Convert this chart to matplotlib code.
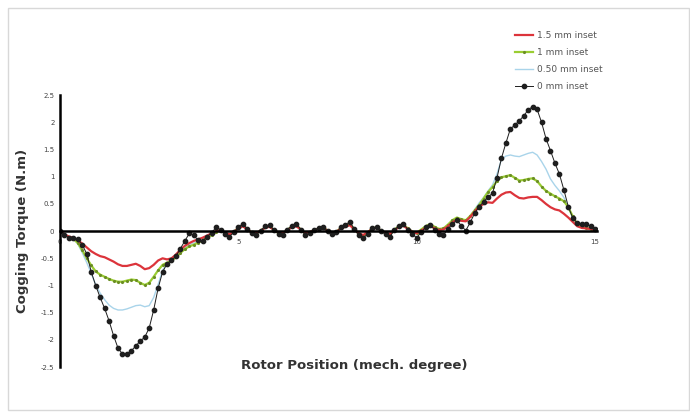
import numpy as np
import matplotlib
matplotlib.use("Agg")
import matplotlib.pyplot as plt
from matplotlib.patches import Rectangle

# rotor position, sampled every 0.125 mech. degree (0..15)
pos = np.linspace(0, 15, 121)

t_0mm = [0.00, -0.08, -0.12, -0.13, -0.15, -0.25, -0.42, -0.75, -1.00, -1.22,
         -1.42, -1.65, -1.92, -2.15, -2.26, -2.26, -2.20, -2.11, -2.02, -1.95,
         -1.78, -1.45, -1.05, -0.75, -0.60, -0.54, -0.46, -0.32, -0.18, -0.04,
         -0.08, -0.17, -0.18, -0.10, -0.03, 0.07, 0.03, -0.06, -0.10, -0.02,
         0.07, 0.14, 0.04, -0.04, -0.07, 0.01, 0.09, 0.11, 0.02, -0.05,
         -0.07, 0.03, 0.10, 0.14, 0.03, -0.07, -0.04, 0.02, 0.06, 0.08,
         0.00, -0.06, -0.02, 0.07, 0.12, 0.17, 0.04, -0.08, -0.13, -0.05,
         0.05, 0.08, 0.00, -0.06, -0.10, 0.02, 0.10, 0.14, 0.03, -0.06,
         -0.12, -0.02, 0.07, 0.12, 0.03, -0.05, -0.07, 0.04, 0.13, 0.20,
         0.10, 0.01, 0.16, 0.33, 0.45, 0.54, 0.62, 0.70, 0.98, 1.34,
         1.62, 1.88, 1.95, 2.03, 2.12, 2.23, 2.29, 2.24, 2.00, 1.70,
         1.48, 1.25, 1.05, 0.76, 0.45, 0.24, 0.15, 0.13, 0.13, 0.09,
         0.04]

t_050mm = [0.00, -0.07, -0.11, -0.14, -0.24, -0.40, -0.58, -0.78, -0.98, -1.14,
           -1.26, -1.36, -1.42, -1.45, -1.45, -1.43, -1.40, -1.37, -1.36, -1.39,
           -1.37, -1.22, -0.98, -0.72, -0.60, -0.55, -0.47, -0.38, -0.30, -0.25,
           -0.22, -0.19, -0.16, -0.11, -0.06, -0.02, 0.02, -0.04, -0.07, -0.01,
           0.06, 0.11, 0.04, -0.03, -0.05, 0.01, 0.07, 0.09, 0.02, -0.04,
           -0.05, 0.03, 0.08, 0.11, 0.03, -0.05, -0.03, 0.02, 0.05, 0.07,
           0.01, -0.04, -0.01, 0.06, 0.10, 0.13, 0.04, -0.05, -0.09, -0.03,
           0.05, 0.07, 0.01, -0.04, -0.06, 0.03, 0.09, 0.12, 0.05, -0.01,
           -0.03, 0.03, 0.09, 0.12, 0.07, 0.03, 0.04, 0.11, 0.19, 0.24,
           0.21, 0.19, 0.28, 0.40, 0.52, 0.62, 0.74, 0.85, 1.05, 1.32,
           1.38, 1.40, 1.38, 1.37, 1.40, 1.43, 1.45, 1.40, 1.28, 1.14,
           0.96, 0.84, 0.74, 0.62, 0.44, 0.24, 0.14, 0.10, 0.08, 0.05,
           0.02]

t_1mm = [0.00, -0.07, -0.11, -0.14, -0.22, -0.35, -0.50, -0.63, -0.74, -0.80,
         -0.84, -0.88, -0.91, -0.93, -0.93, -0.91, -0.89, -0.90, -0.95, -0.99,
         -0.95, -0.84, -0.72, -0.62, -0.58, -0.55, -0.48, -0.40, -0.33, -0.28,
         -0.25, -0.21, -0.17, -0.12, -0.07, -0.02, 0.02, -0.04, -0.07, -0.01,
         0.06, 0.11, 0.04, -0.03, -0.05, 0.01, 0.07, 0.09, 0.02, -0.04,
         -0.05, 0.03, 0.08, 0.11, 0.03, -0.05, -0.03, 0.02, 0.05, 0.07,
         0.01, -0.04, -0.01, 0.06, 0.10, 0.13, 0.04, -0.05, -0.09, -0.03,
         0.05, 0.07, 0.01, -0.04, -0.06, 0.03, 0.09, 0.12, 0.05, -0.01,
         -0.03, 0.03, 0.09, 0.13, 0.08, 0.04, 0.05, 0.12, 0.20, 0.25,
         0.22, 0.20, 0.28, 0.38, 0.48, 0.60, 0.72, 0.81, 0.92, 0.99,
         1.01, 1.03, 0.98, 0.93, 0.94, 0.96, 0.97, 0.92, 0.82, 0.74,
         0.69, 0.64, 0.60, 0.55, 0.44, 0.27, 0.13, 0.08, 0.06, 0.04,
         0.02]

t_15mm = [0.00, -0.06, -0.10, -0.12, -0.17, -0.23, -0.30, -0.37, -0.42, -0.46,
          -0.48, -0.52, -0.56, -0.61, -0.64, -0.64, -0.62, -0.60, -0.64, -0.70,
          -0.68, -0.62, -0.54, -0.50, -0.52, -0.50, -0.43, -0.34, -0.27, -0.22,
          -0.18, -0.15, -0.12, -0.08, -0.04, 0.00, 0.02, -0.03, -0.06, -0.01,
          0.05, 0.09, 0.03, -0.03, -0.04, 0.01, 0.06, 0.08, 0.02, -0.03,
          -0.04, 0.02, 0.07, 0.09, 0.03, -0.04, -0.02, 0.02, 0.04, 0.06,
          0.01, -0.03, -0.01, 0.05, 0.08, 0.11, 0.03, -0.04, -0.07, -0.02,
          0.04, 0.06, 0.01, -0.03, -0.05, 0.02, 0.07, 0.10, 0.04, -0.01,
          -0.04, 0.01, 0.06, 0.10, 0.05, 0.02, 0.03, 0.09, 0.16, 0.21,
          0.19, 0.18, 0.26, 0.36, 0.45, 0.50, 0.53, 0.52, 0.60, 0.67,
          0.71, 0.72, 0.66, 0.61, 0.60, 0.62, 0.63, 0.63, 0.57, 0.50,
          0.44, 0.40, 0.38, 0.32, 0.25, 0.17, 0.09, 0.06, 0.05, 0.04,
          0.02]

fig = plt.figure(figsize=(6.9, 4.12), dpi=100)
fig.patches.append(Rectangle((0.012, 0.006), 0.986, 0.975, transform=fig.transFigure,
                             fill=False, edgecolor='#d8d8d8', linewidth=1.0))

ax = fig.add_axes([0.087, 0.109, 0.778, 0.66])

ax.plot(pos, t_050mm, color='#a9d4ea', lw=1.0, label='0.50 mm inset')
ax.plot(pos, t_1mm, color='#9acd32', lw=1.6, marker='.', ms=2.5, mfc='#6b8e23',
        mec='#6b8e23', label='1 mm inset')
ax.plot(pos, t_15mm, color='#dc343b', lw=1.6, label='1.5 mm inset')
ax.plot(pos, t_0mm, color='#1e1e1e', lw=0.7, marker='o', ms=3.1, label='0 mm inset')

ax.set_xlim(0, 15.05)
ax.set_ylim(-2.5, 2.5)
ax.set_xticks([0, 5, 10, 15])
ax.set_yticks(np.arange(-2.5, 2.51, 0.5))
ax.set_yticklabels(['-2.5', '-2', '-1.5', '-1', '-0.5', '0', '0.5', '1', '1.5', '2', '2.5'])

ax.spines['bottom'].set_position('zero')
ax.spines['left'].set_position(('data', 0))
ax.spines['top'].set_visible(False)
ax.spines['right'].set_visible(False)
ax.spines['bottom'].set_linewidth(1.8)
ax.spines['left'].set_linewidth(1.8)
ax.tick_params(axis='both', length=0, labelsize=5, colors='#444444', pad=4)
ax.tick_params(axis='x', pad=6)

handles, labels = ax.get_legend_handles_labels()
order = [2, 1, 0, 3]
fig.legend([handles[k] for k in order], [labels[k] for k in order],
           loc='upper left', bbox_to_anchor=(0.735, 0.945), frameon=False,
           fontsize=6.5, handlelength=2.0, labelspacing=0.9, handletextpad=0.4,
           labelcolor='#555555')

fig.text(0.032, 0.44, 'Cogging Torque (N.m)', rotation=90, ha='center', va='center',
         fontsize=9.5, fontweight='bold', color='#333333')
fig.text(0.514, 0.114, 'Rotor Position (mech. degree)', ha='center', va='center',
         fontsize=9.5, fontweight='bold', color='#333333')

plt.savefig('out.png', dpi=100)
plt.close()
